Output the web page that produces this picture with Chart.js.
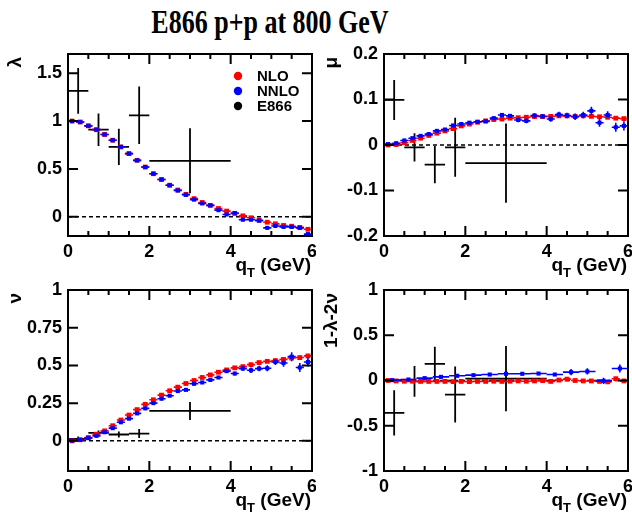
<!DOCTYPE html>
<html>
<head>
<meta charset="utf-8">
<script src="https://cdn.jsdelivr.net/npm/chart.js@4.4.1/dist/chart.umd.min.js"></script>
<style>
  body { margin: 0; background: #fff; width: 632px; height: 514px; position: relative; overflow: hidden; }
  canvas { position: absolute; }
  #title { position: absolute; left: 0; width: 540px; top: 7px; text-align: center;
           font: bold 26px "Liberation Serif", "Times New Roman", serif; color: #000;
           transform: scaleY(1.26); transform-origin: top; line-height: 26px; }
</style>
</head>
<body>
<div id="title">E866 p+p at 800 GeV</div>
<canvas id="c1" width="316" height="238" style="left:0;top:40px"></canvas>
<canvas id="c2" width="316" height="238" style="left:316px;top:40px"></canvas>
<canvas id="c3" width="316" height="236" style="left:0;top:278px"></canvas>
<canvas id="c4" width="316" height="236" style="left:316px;top:278px"></canvas>
<script>
'use strict';

// ***** DATA *****
const seriesNames = ['NLO', 'NNLO', 'E866'];

const qtBins = [0.1, 0.3, 0.5, 0.7, 0.9, 1.1, 1.3, 1.5, 1.7, 1.9, 2.1, 2.3, 2.5, 2.7, 2.9,
  3.1, 3.3, 3.5, 3.7, 3.9, 4.1, 4.3, 4.5, 4.7, 4.9, 5.1, 5.3, 5.5, 5.7, 5.9];
const qtBinsWide = [0.2, 0.6, 1.0, 1.4, 1.8, 2.2, 2.6, 3.0, 3.4, 3.8, 4.2, 4.6, 5.0, 5.4, 5.8];
const e866Qt = [0.25, 0.75, 1.25, 1.75, 3.0];
const e866QtErr = [0.25, 0.25, 0.25, 0.25, 1.0];

// lambda
const lambdaNLO = [1.0, 0.99, 0.95, 0.91, 0.86, 0.80, 0.73, 0.66, 0.59, 0.52, 0.45, 0.39, 0.33, 0.28, 0.235,
  0.19, 0.15, 0.12, 0.087, 0.06, 0.035, 0.01, -0.01, -0.035, -0.056, -0.073, -0.09, -0.098, -0.11, -0.13];
const lambdaNNLO = [1.0, 0.99, 0.95, 0.91, 0.86, 0.80, 0.73, 0.66, 0.59, 0.52, 0.45, 0.39, 0.33, 0.275, 0.23,
  0.18, 0.14, 0.12, 0.07, 0.025, 0.04, -0.03, -0.03, -0.04, -0.115, -0.095, -0.105, -0.105, -0.115, -0.18];
const lambdaNNLOErr = [0.004, 0.004, 0.004, 0.004, 0.004, 0.004, 0.004, 0.004, 0.004, 0.004, 0.004, 0.004, 0.004, 0.004, 0.004,
  0.005, 0.005, 0.005, 0.006, 0.006, 0.008, 0.008, 0.008, 0.008, 0.01, 0.01, 0.01, 0.01, 0.012, 0.012];
const lambdaE866 = [1.315, 0.91, 0.73, 1.06, 0.585];
const lambdaE866Err = [0.24, 0.17, 0.19, 0.30, 0.34];

// mu
const muNLO = [0.0, 0.001, 0.005, 0.010, 0.015, 0.021, 0.026, 0.031, 0.036, 0.042, 0.046, 0.050, 0.053, 0.056, 0.057,
  0.059, 0.060, 0.061, 0.0625, 0.0625, 0.063, 0.064, 0.064, 0.063, 0.064, 0.063, 0.062, 0.061, 0.059, 0.058];
const muNNLO = [0.002, 0.004, 0.010, 0.015, 0.020, 0.024, 0.031, 0.034, 0.043, 0.046, 0.049, 0.051, 0.052, 0.059, 0.066,
  0.064, 0.055, 0.053, 0.065, 0.063, 0.057, 0.067, 0.065, 0.062, 0.066, 0.075, 0.049, 0.066, 0.039, 0.042];
const muNNLOErr = [0.001, 0.001, 0.001, 0.001, 0.001, 0.001, 0.001, 0.001, 0.002, 0.002, 0.002, 0.002, 0.002, 0.003, 0.004,
  0.004, 0.005, 0.005, 0.005, 0.005, 0.006, 0.006, 0.006, 0.007, 0.007, 0.009, 0.009, 0.008, 0.01, 0.01];
const muE866 = [0.099, -0.005, -0.043, -0.005, -0.04];
const muE866Err = [0.044, 0.031, 0.041, 0.065, 0.087];

// nu
const nuNLO = [0.0, 0.007, 0.022, 0.044, 0.066, 0.10, 0.138, 0.171, 0.207, 0.242, 0.272, 0.303, 0.332, 0.356, 0.38,
  0.40, 0.42, 0.437, 0.455, 0.47, 0.484, 0.492, 0.505, 0.519, 0.527, 0.532, 0.54, 0.549, 0.552, 0.563];
const nuNNLO = [0.002, 0.007, 0.018, 0.033, 0.057, 0.084, 0.123, 0.147, 0.182, 0.215, 0.25, 0.279, 0.299, 0.33, 0.338,
  0.378, 0.387, 0.404, 0.42, 0.462, 0.446, 0.479, 0.468, 0.479, 0.481, 0.523, 0.516, 0.558, 0.486, 0.523];
const nuNNLOErr = [0.004, 0.004, 0.004, 0.004, 0.004, 0.004, 0.005, 0.005, 0.005, 0.005, 0.005, 0.006, 0.006, 0.006, 0.007,
  0.008, 0.008, 0.009, 0.01, 0.012, 0.012, 0.015, 0.018, 0.018, 0.02, 0.02, 0.025, 0.03, 0.03, 0.03];
const nuE866 = [0.013, 0.053, 0.042, 0.048, 0.198];
const nuE866Err = [0.015, 0.015, 0.02, 0.03, 0.06];

// 1 - lambda - 2 nu
const combNLO = [0.0, -0.005, -0.008, -0.008, -0.01, -0.01, -0.01, -0.01, -0.012, -0.01, -0.012, -0.01, -0.01, -0.008, -0.01,
  -0.008, -0.005, -0.008, -0.005, -0.002, -0.01, 0.005, 0.015, 0.0, -0.005, -0.005, -0.01, -0.015, 0.02, -0.005];
const combNNLO = [0.004, 0.011, 0.026, 0.04, 0.052, 0.059, 0.066, 0.074, 0.074, 0.077, 0.066, 0.092, 0.1, -0.004, 0.133];
const combNNLOErr = [0.005, 0.005, 0.005, 0.005, 0.005, 0.005, 0.008, 0.008, 0.01, 0.01, 0.015, 0.035, 0.035, 0.035, 0.045];
const combE866 = [-0.357, -0.01, 0.184, -0.155, 0.02];
const combE866Err = [0.25, 0.17, 0.19, 0.31, 0.36];

// axes
const xTicks = [0, 2, 4, 6];
const lambdaTicks = [0, 0.5, 1, 1.5];
const muTicks = [-0.2, -0.1, 0, 0.1, 0.2];
const nuTicks = [0, 0.25, 0.5, 0.75, 1];
const combTicks = [-1, -0.5, 0, 0.5, 1];

// ***** HELPERS *****
const TICK_FONT = { family: 'Liberation Sans', weight: 'bold', size: 18 };

function makePoints(xs, ys, xErr, yErr) {
  return xs.map((x, i) => ({
    x: x, y: ys[i],
    xe: Array.isArray(xErr) ? xErr[i] : xErr,
    ye: Array.isArray(yErr) ? yErr[i] : yErr
  }));
}

function buildDatasets(nlo, nnlo, e866) {
  // NNLO first so it sits on top, E866 last so it sits underneath
  return [
    { label: seriesNames[1], data: nnlo, pointStyle: 'rect', pointRadius: 2.9, backgroundColor: '#0000ff',
      borderWidth: 0, barColor: '#0000ff', barWidth: 1.6 },
    { label: seriesNames[0], data: nlo, pointStyle: 'rect', pointRadius: 3.4, backgroundColor: '#ff0000',
      borderWidth: 0, barColor: '#ff0000', barWidth: 1.6 },
    { label: seriesNames[2], data: e866, pointRadius: 0, backgroundColor: '#000', borderWidth: 0,
      barColor: '#000', barWidth: 1.8 }
  ];
}

function drawAxisTitle(ctx, area) {
  ctx.save();
  ctx.fillStyle = '#000';
  ctx.textBaseline = 'alphabetic';
  const big = 'bold 19px "Liberation Sans"';
  const small = 'bold 13px "Liberation Sans"';
  ctx.font = big;
  const wq = ctx.measureText('q').width;
  const wRest = ctx.measureText(' (GeV)').width;
  ctx.font = small;
  const wT = ctx.measureText('T').width;
  const base = area.bottom + 35;
  let x = area.right - 1 - (wq + wT + wRest);
  ctx.textAlign = 'left';
  ctx.font = big;
  ctx.fillText('q', x, base);
  x += wq;
  ctx.font = small;
  ctx.fillText('T', x, base + 6);
  x += wT;
  ctx.font = big;
  ctx.fillText(' (GeV)', x, base);
  ctx.restore();
}

const rootStyle = {
  id: 'rootStyle',
  beforeDatasetsDraw(chart) {
    const ctx = chart.ctx, area = chart.chartArea;
    const y0 = chart.scales.y.getPixelForValue(0);
    ctx.save();
    ctx.strokeStyle = '#000';
    ctx.lineWidth = 1.5;
    ctx.setLineDash([4, 3]);
    ctx.beginPath();
    ctx.moveTo(area.left, y0);
    ctx.lineTo(area.right, y0);
    ctx.stroke();
    ctx.restore();
  },
  beforeDatasetDraw(chart, args) {
    const ds = chart.data.datasets[args.index];
    const xs = chart.scales.x, ys = chart.scales.y;
    const ctx = chart.ctx;
    ctx.save();
    ctx.strokeStyle = ds.barColor;
    ctx.lineWidth = ds.barWidth;
    ctx.beginPath();
    ds.data.forEach(p => {
      const px = xs.getPixelForValue(p.x), py = ys.getPixelForValue(p.y);
      if (p.xe) {
        ctx.moveTo(xs.getPixelForValue(p.x - p.xe), py);
        ctx.lineTo(xs.getPixelForValue(p.x + p.xe), py);
      }
      if (p.ye) {
        ctx.moveTo(px, ys.getPixelForValue(p.y - p.ye));
        ctx.lineTo(px, ys.getPixelForValue(p.y + p.ye));
      }
    });
    ctx.stroke();
    ctx.restore();
  },
  afterDraw(chart) {
    const ctx = chart.ctx, area = chart.chartArea;
    const xs = chart.scales.x, ys = chart.scales.y;
    const opts = chart.options.plugins.rootStyle;
    ctx.save();
    ctx.strokeStyle = '#000';
    ctx.lineWidth = 2;
    ctx.strokeRect(area.left, area.top, area.right - area.left, area.bottom - area.top);

    // inward ticks on all four sides
    ctx.beginPath();
    for (let v = xs.min; v <= xs.max + 1e-9; v += 0.5) {
      const px = xs.getPixelForValue(v);
      const len = xTicks.includes(v) ? 10 : 5;
      ctx.moveTo(px, area.bottom); ctx.lineTo(px, area.bottom - len);
      ctx.moveTo(px, area.top); ctx.lineTo(px, area.top + len);
    }
    opts.yTicks.forEach(v => {
      const py = ys.getPixelForValue(v);
      ctx.moveTo(area.left, py); ctx.lineTo(area.left + 10, py);
      ctx.moveTo(area.right, py); ctx.lineTo(area.right - 10, py);
    });
    ctx.stroke();

    // y title, rotated, aligned with the top of the axis
    ctx.fillStyle = '#000';
    ctx.font = 'bold 19px "Liberation Sans"';
    ctx.translate(21, area.top + 3);
    ctx.rotate(-Math.PI / 2);
    ctx.textAlign = 'right';
    ctx.textBaseline = 'alphabetic';
    ctx.fillText(opts.yTitle, 0, 0);
    ctx.restore();

    drawAxisTitle(ctx, area);

    if (opts.legend) {
      const colors = ['#ff0000', '#0000ff', '#000000'];
      ctx.save();
      ctx.font = 'bold 15px "Liberation Sans"';
      ctx.textBaseline = 'middle';
      ctx.textAlign = 'left';
      seriesNames.forEach((name, i) => {
        const cy = area.top + 22 + i * 15;
        ctx.fillStyle = colors[i];
        ctx.beginPath();
        ctx.arc(238, cy, 4.2, 0, Math.PI * 2);
        ctx.fill();
        ctx.fillStyle = '#000';
        ctx.fillText(name, 257, cy + 1);
      });
      ctx.restore();
    }
  }
};

function makePanel(canvasId, cfg) {
  const canvas = document.getElementById(canvasId);
  const xHeight = canvas.height - cfg.top - cfg.plotHeight;
  return new Chart(canvas, {
    type: 'scatter',
    data: { datasets: cfg.datasets },
    options: {
      responsive: false,
      animation: false,
      devicePixelRatio: 1,
      layout: { padding: { top: cfg.top, right: 4, left: 0, bottom: 0 } },
      plugins: {
        legend: { display: false },
        tooltip: { enabled: false },
        rootStyle: { yTicks: cfg.yTicks, yTitle: cfg.yTitle, legend: cfg.legend }
      },
      scales: {
        x: {
          type: 'linear', min: 0, max: 6,
          grid: { display: false, drawTicks: false, tickLength: 0 },
          border: { display: false },
          ticks: { color: '#000', font: TICK_FONT, padding: 5, autoSkip: false, maxRotation: 0 },
          afterBuildTicks: s => { s.ticks = xTicks.map(v => ({ value: v })); },
          afterFit: s => { s.height = xHeight; s.paddingLeft = 0; s.paddingRight = 0; }
        },
        y: {
          type: 'linear', min: cfg.yMin, max: cfg.yMax,
          grid: { display: false, drawTicks: false, tickLength: 0 },
          border: { display: false },
          ticks: { color: '#000', font: TICK_FONT, padding: 6, autoSkip: false,
                   callback: v => String(v) },
          afterBuildTicks: s => { s.ticks = cfg.yTicks.map(v => ({ value: v })); },
          afterFit: s => { s.width = 68; s.paddingTop = 0; s.paddingBottom = 0; }
        }
      }
    },
    plugins: [rootStyle]
  });
}

// ***** BUILD PANELS *****
makePanel('c1', {
  top: 14, plotHeight: 182, yMin: -0.2, yMax: 1.7, yTicks: lambdaTicks, yTitle: 'λ', legend: true,
  datasets: buildDatasets(
    makePoints(qtBins, lambdaNLO, 0.1, 0.003),
    makePoints(qtBins, lambdaNNLO, 0.1, lambdaNNLOErr),
    makePoints(e866Qt, lambdaE866, e866QtErr, lambdaE866Err))
});

makePanel('c2', {
  top: 14, plotHeight: 182, yMin: -0.2, yMax: 0.2, yTicks: muTicks, yTitle: 'μ', legend: false,
  datasets: buildDatasets(
    makePoints(qtBins, muNLO, 0.1, 0.001),
    makePoints(qtBins, muNNLO, 0.1, muNNLOErr),
    makePoints(e866Qt, muE866, e866QtErr, muE866Err))
});

makePanel('c3', {
  top: 12, plotHeight: 181, yMin: -0.2, yMax: 1, yTicks: nuTicks, yTitle: 'ν', legend: false,
  datasets: buildDatasets(
    makePoints(qtBins, nuNLO, 0.1, 0.003),
    makePoints(qtBins, nuNNLO, 0.1, nuNNLOErr),
    makePoints(e866Qt, nuE866, e866QtErr, nuE866Err))
});

makePanel('c4', {
  top: 12, plotHeight: 181, yMin: -1, yMax: 1, yTicks: combTicks, yTitle: '1-λ-2ν', legend: false,
  datasets: buildDatasets(
    makePoints(qtBins, combNLO, 0.1, 0.005),
    makePoints(qtBinsWide, combNNLO, 0.2, combNNLOErr),
    makePoints(e866Qt, combE866, e866QtErr, combE866Err))
});
</script>
</body>
</html>
